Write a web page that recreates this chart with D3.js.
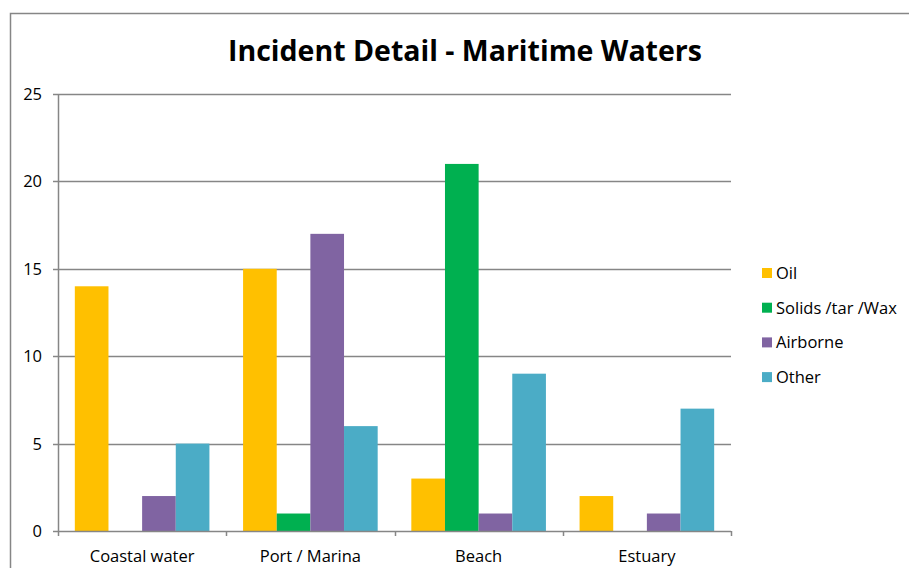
<!DOCTYPE html>
<html>
<head>
<meta charset="utf-8">
<script src="https://cdn.jsdelivr.net/npm/d3@7"></script>
<style>
  body { margin: 0; background: #fff; }
  text { font-family: "Open Sans", "Noto Sans", sans-serif; fill: #000; }
</style>
</head>
<body>
<div id="chart"></div>
<script>
var categories = ["Coastal water", "Port / Marina", "Beach", "Estuary"];
var seriesNames = ["Oil", "Solids /tar /Wax", "Airborne", "Other"];
var seriesColors = ["#FFC000", "#00B050", "#8064A2", "#4BACC6"];
var oil = [14, 15, 3, 2];
var solids = [0, 1, 21, 0];
var airborne = [2, 17, 1, 1];
var other = [5, 6, 9, 7];
var yTicks = [0, 5, 10, 15, 20, 25];

var seriesValues = [oil, solids, airborne, other];

var W = 909, H = 568;
var plot = {left: 58, right: 731, top: 94, bottom: 531};

var svg = d3.select("#chart").append("svg")
    .attr("width", W)
    .attr("height", H);

// outer chart frame (clipped by window at right and bottom)
svg.append("rect")
    .attr("x", 10.5).attr("y", 13.5)
    .attr("width", 1000).attr("height", 1000)
    .attr("fill", "none")
    .attr("stroke", "#868686")
    .attr("stroke-width", 1.5);

svg.append("text")
    .attr("x", 465).attr("y", 61)
    .attr("text-anchor", "middle")
    .style("font-size", "28.5px")
    .style("font-weight", "bold")
    .text("Incident Detail - Maritime Waters");

var x = d3.scaleBand().domain(categories).range([plot.left, plot.right]);
var inner = d3.scaleBand().domain(seriesNames).range([x.bandwidth() * 0.1, x.bandwidth() * 0.9]);
var y = d3.scaleLinear().domain([0, 25]).range([plot.bottom, plot.top]);

// gridlines
svg.append("g")
    .selectAll("line")
    .data(yTicks.slice(1))
    .join("line")
    .attr("x1", plot.left - 5).attr("x2", plot.right)
    .attr("y1", function (d) { return Math.round(y(d)) + 0.5; })
    .attr("y2", function (d) { return Math.round(y(d)) + 0.5; })
    .attr("stroke", "#868686")
    .attr("stroke-width", 1.5);

// y axis labels
svg.append("g")
    .selectAll("text")
    .data(yTicks)
    .join("text")
    .attr("x", 42).attr("y", function (d) { return y(d) + 6; })
    .attr("text-anchor", "end")
    .style("font-size", "16.5px")
    .text(function (d) { return d; });

// bars
var groups = svg.append("g")
    .selectAll("g")
    .data(categories)
    .join("g")
    .attr("transform", function (d) { return "translate(" + x(d) + ",0)"; });

groups.selectAll("rect")
    .data(function (d, i) {
        return seriesNames.map(function (s, j) { return {s: s, v: seriesValues[j][i], c: seriesColors[j]}; });
    })
    .join("rect")
    .attr("x", function (d) { return inner(d.s); })
    .attr("width", inner.bandwidth())
    .attr("y", function (d) { return y(d.v); })
    .attr("height", function (d) { return plot.bottom - y(d.v); })
    .attr("fill", function (d) { return d.c; });

// axes lines
svg.append("line")
    .attr("x1", plot.left + 0.5).attr("x2", plot.left + 0.5)
    .attr("y1", plot.top).attr("y2", plot.bottom)
    .attr("stroke", "#868686").attr("stroke-width", 1.5);
svg.append("line")
    .attr("x1", plot.left - 5).attr("x2", plot.right)
    .attr("y1", plot.bottom + 0.5).attr("y2", plot.bottom + 0.5)
    .attr("stroke", "#868686").attr("stroke-width", 1.5);

// x ticks
svg.append("g")
    .selectAll("line")
    .data(categories.map(function (c) { return x(c); }).concat([plot.right]))
    .join("line")
    .attr("x1", function (d) { return Math.round(d) + 0.5; })
    .attr("x2", function (d) { return Math.round(d) + 0.5; })
    .attr("y1", plot.bottom).attr("y2", plot.bottom + 5)
    .attr("stroke", "#868686").attr("stroke-width", 1.5);

svg.append("g")
    .selectAll("text")
    .data(categories)
    .join("text")
    .attr("x", function (d) { return x(d) + x.bandwidth() / 2; })
    .attr("y", 562)
    .attr("text-anchor", "middle")
    .style("font-size", "16.5px")
    .text(function (d) { return d; });

// legend
var legend = svg.append("g")
    .selectAll("g")
    .data(seriesNames)
    .join("g")
    .attr("transform", function (d, i) { return "translate(762," + (273 + i * 34.7) + ")"; });
legend.append("rect")
    .attr("x", 0).attr("y", -5).attr("width", 10).attr("height", 10)
    .attr("fill", function (d, i) { return seriesColors[i]; });
legend.append("text")
    .attr("x", 14).attr("y", 6)
    .style("font-size", "16.5px")
    .text(function (d) { return d; });
</script>
</body>
</html>
